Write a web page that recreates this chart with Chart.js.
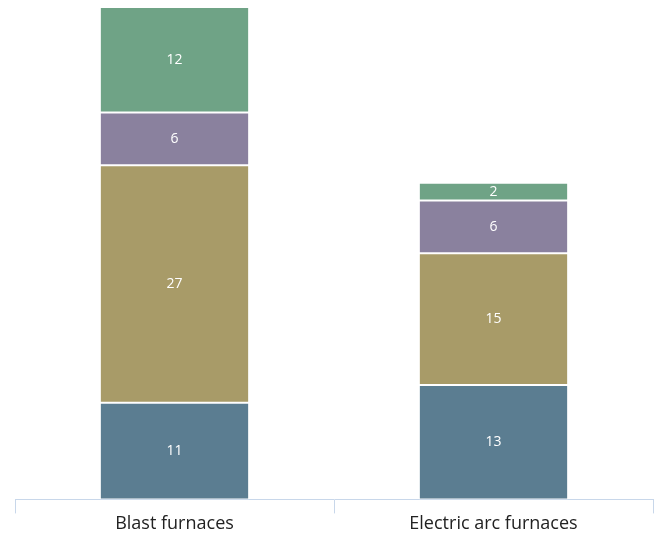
<!DOCTYPE html>
<html>
<head>
<meta charset="utf-8">
<script src="https://cdn.jsdelivr.net/npm/chart.js@4/dist/chart.umd.min.js"></script>
<style>
  html, body { margin: 0; padding: 0; background: #ffffff; }
  #wrap { width: 659px; height: 535px; position: relative; }
</style>
</head>
<body>
<div id="wrap"><canvas id="c"></canvas></div>
<script>
const categories = ['Blast furnaces', 'Electric arc furnaces'];
const seriesA = [11, 13];
const seriesB = [27, 15];
const seriesC = [6, 6];
const seriesD = [12, 2];
const colors = ['#5b7d91', '#a89b68', '#8a819e', '#6fa386'];

// Value printed in the middle of each stacked segment
const segmentLabels = {
  id: 'segmentLabels',
  afterDatasetsDraw(chart) {
    const ctx = chart.ctx;
    ctx.save();
    ctx.fillStyle = '#ffffff';
    ctx.font = '14px "Open Sans", sans-serif';
    ctx.textAlign = 'center';
    ctx.textBaseline = 'middle';
    chart.data.datasets.forEach((ds, i) => {
      chart.getDatasetMeta(i).data.forEach((bar, j) => {
        const p = bar.getProps(['x', 'y', 'base'], true);
        ctx.fillText(String(ds.data[j]), p.x, (p.y + p.base) / 2);
      });
    });
    ctx.restore();
  }
};

const makeSet = (data, color) => ({
  data,
  backgroundColor: color,
  borderColor: '#ffffff',
  borderWidth: 1,
  borderSkipped: false,
  barPercentage: 0.468,
  categoryPercentage: 1
});

new Chart(document.getElementById('c'), {
  type: 'bar',
  data: {
    labels: categories,
    datasets: [
      makeSet(seriesA, colors[0]),
      makeSet(seriesB, colors[1]),
      makeSet(seriesC, colors[2]),
      makeSet(seriesD, colors[3])
    ]
  },
  options: {
    responsive: true,
    maintainAspectRatio: false,
    animation: false,
    layout: { padding: { left: 15, right: 6, top: 7, bottom: 0 } },
    plugins: { legend: { display: false }, tooltip: { enabled: false } },
    scales: {
      x: {
        stacked: true,
        grid: {
          display: true,
          drawOnChartArea: false,
          drawTicks: true,
          tickLength: 14,
          color: '#c8d7ea',
          lineWidth: 1
        },
        border: { display: true, color: '#c8d7ea', width: 1 },
        ticks: {
          color: '#222222',
          padding: 0,
          font: { family: '"Open Sans", sans-serif', size: 18 }
        }
      },
      y: {
        stacked: true,
        display: false,
        min: 0,
        max: 56
      }
    }
  },
  plugins: [segmentLabels]
});
</script>
</body>
</html>
